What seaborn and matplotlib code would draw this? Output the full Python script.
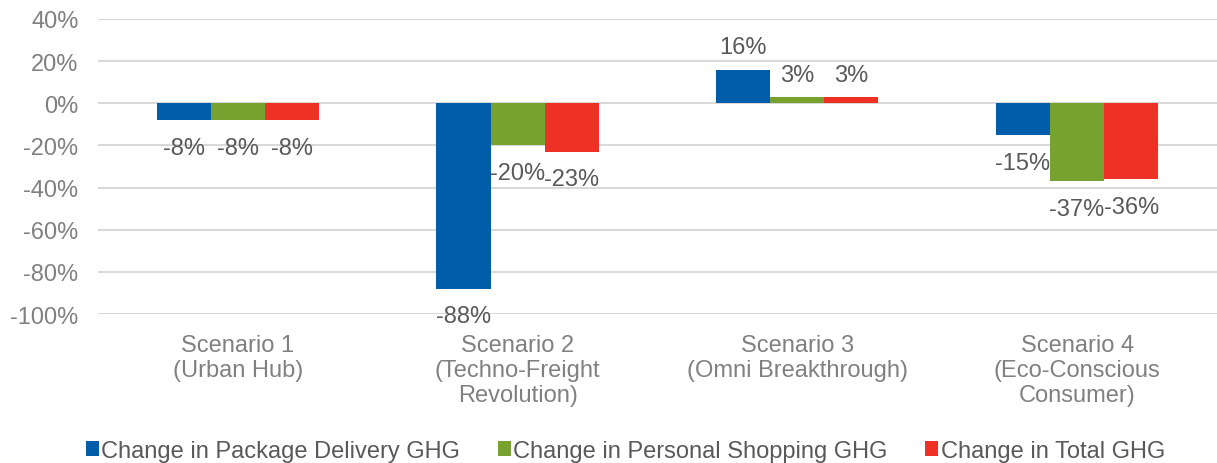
import matplotlib
matplotlib.use("Agg")
import matplotlib.pyplot as plt
import seaborn as sns
import pandas as pd
from matplotlib.patches import Patch

scenarios = [
    "Scenario 1\n(Urban Hub)",
    "Scenario 2\n(Techno-Freight\nRevolution)",
    "Scenario 3\n(Omni Breakthrough)",
    "Scenario 4\n(Eco-Conscious\nConsumer)",
]
series_names = [
    "Change in Package Delivery GHG",
    "Change in Personal Shopping GHG",
    "Change in Total GHG",
]
package_delivery = [-8, -88, 16, -15]
personal_shopping = [-8, -20, 3, -37]
total_ghg = [-8, -23, 3, -36]
y_ticks = [40, 20, 0, -20, -40, -60, -80, -100]

colors = ["#005DAA", "#78A22F", "#EE3124"]

rows = []
for name, vals in zip(series_names, [package_delivery, personal_shopping, total_ghg]):
    for sc, v in zip(scenarios, vals):
        rows.append({"Scenario": sc, "Series": name, "Value": v})
df = pd.DataFrame(rows)

sns.set_theme(style="white")
plt.rcParams["font.family"] = ["Liberation Sans", "DejaVu Sans"]
plt.rcParams["axes.unicode_minus"] = False

FS = 17

fig = plt.figure(figsize=(12.17, 4.64), dpi=100)
ax = fig.add_axes([0.0805, 0.321, 0.9195, 0.636])

sns.barplot(data=df, x="Scenario", y="Value", hue="Series", order=scenarios,
            hue_order=series_names, palette=colors, width=0.58, gap=0,
            saturation=1, linewidth=0, errorbar=None, ax=ax, legend=False)

ax.set_ylim(-100, 40)
ax.set_yticks(y_ticks)
ax.set_yticklabels([f"{t}%" for t in y_ticks])
ax.set_xlim(-0.5, 3.5)
ax.grid(axis="y", color="#D9D9D9", linewidth=1.5)
ax.set_axisbelow(True)
for s in ax.spines.values():
    s.set_visible(False)
ax.set_xlabel("")
ax.set_ylabel("")
ax.tick_params(axis="y", labelsize=FS, colors="#808080", length=0, pad=14)
ax.tick_params(axis="x", labelsize=FS, colors="#808080", length=0, pad=14)
for lab in ax.get_xticklabels():
    lab.set_linespacing(1.2)

# value labels: positive bars above, negative bars a bit further below
for cont, vals in zip(ax.containers, [package_delivery, personal_shopping, total_ghg]):
    ax.bar_label(cont, labels=[f"{v}%" if v >= 0 else "" for v in vals],
                 padding=8, fontsize=FS, color="#595959")
    ax.bar_label(cont, labels=[f"{v}%" if v < 0 else "" for v in vals],
                 padding=12, fontsize=FS, color="#595959")

handles = [Patch(facecolor=c, edgecolor="none") for c in colors]
fig.legend(handles, series_names, loc="center", bbox_to_anchor=(0.514, 0.026),
           ncol=3, frameon=False, fontsize=FS, handlelength=0.55, handleheight=0.55,
           handletextpad=0.1, columnspacing=1.6, labelcolor="#595959")

fig.savefig("out.png", dpi=100)
